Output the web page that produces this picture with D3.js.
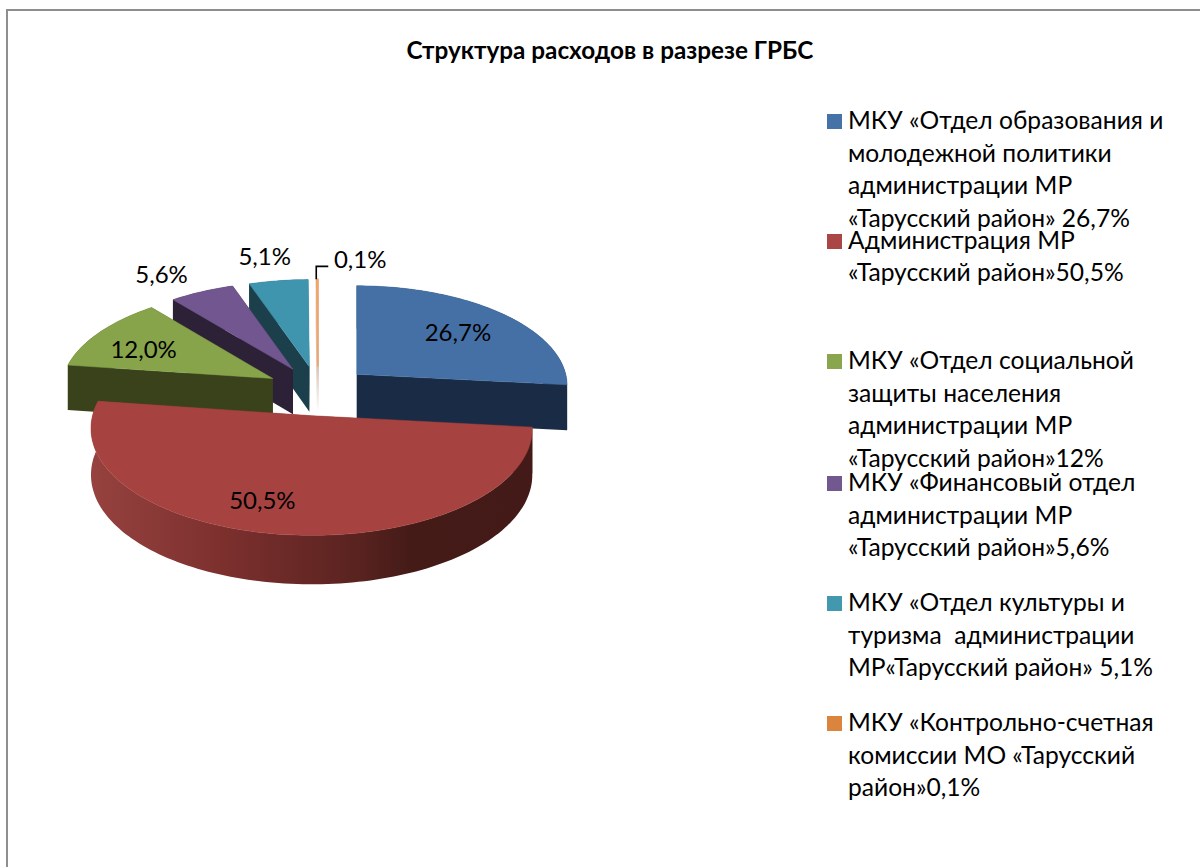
<!DOCTYPE html>
<html><head><meta charset="utf-8">
<script src="https://cdn.jsdelivr.net/npm/d3@7"></script>
<style>html,body{margin:0;padding:0;background:#fff}svg{display:block}</style>
</head><body><div id="c"></div>
<script>
const categories=["МКУ Отдел образования","Администрация","МКУ Отдел социальной защиты","МКУ Финансовый отдел","МКУ Отдел культуры","МКУ Контрольно-счетная комиссия"];
const values=[26.7,50.5,12.0,5.6,5.1,0.1];
const dataLabels=["26,7%","50,5%","12,0%","5,6%","5,1%","0,1%"];
const legendLines=[
 ["МКУ «Отдел образования и","молодежной политики","администрации МР","«Тарусский район» 26,7%"],
 ["Администрация МР","«Тарусский район»50,5%"],
 ["МКУ «Отдел социальной","защиты населения","администрации МР","«Тарусский район»12%"],
 ["МКУ «Финансовый отдел","администрации МР","«Тарусский район»5,6%"],
 ["МКУ «Отдел культуры и","туризма  администрации","МР«Тарусский район» 5,1%"],
 ["МКУ «Контрольно-счетная","комиссии МО «Тарусский","район»0,1%"]];
const titleText="Структура расходов в разрезе ГРБС";
const topColors=["#4570a6","#a64340","#87a44b","#71568f","#4095ae","#f2a56b"];
const wallColors=["#1a2c45","#431a17","#39421b","#2c2137","#1b3f4b","#f3e6dc"];
const legendColors=["#4572a7","#aa4643","#89a54e","#71588f","#4198af","#db843d"];
const legendBaseline=[129,248.5,369,491,611,731];
const labelFrac=[.6,.6,.6,1.1,1.1,1.1];
const labelDx=[12,-32,-23,-32,-11,43], labelDy=[-4,17,0,-10,-16,-12];
const W=1200,H=867,FONT="Lato, 'Noto Sans', sans-serif";
const O={x:318,y:390.5},R=213,EXPLODE=52,FX=1850,FY=2000,TILT=.475,DEPTH=45.5;
const svg=d3.select("#c").append("svg").attr("width",W).attr("height",H).style("font-family",FONT);
svg.append("rect").attr("width",W).attr("height",H).attr("fill","#fff");
svg.append("path").attr("d",`M7,${H}V10H${W}`).attr("fill","none").attr("stroke","#8e8e8e").attr("stroke-width",2);
svg.append("text").attr("x",610).attr("y",59).attr("text-anchor","middle").attr("font-weight",700).attr("font-size",24.3).text(titleText);
const defs=svg.append("defs");
const g=defs.append("linearGradient").attr("id","redWall").attr("gradientUnits","userSpaceOnUse").attr("x1",91).attr("x2",532).attr("y1",0).attr("y2",0);
[[0,"#96423f"],[.3,"#7c302e"],[.6,"#5a2320"],[.72,"#451b18"],[1,"#431a17"]].forEach(s=>g.append("stop").attr("offset",s[0]).attr("stop-color",s[1]));
const o=defs.append("linearGradient").attr("id","orWall").attr("gradientUnits","userSpaceOnUse").attr("x1",0).attr("x2",0).attr("y1",366).attr("y2",412);
[[0,"#d8c4b6"],[1,"#ffffff"]].forEach(s=>o.append("stop").attr("offset",s[0]).attr("stop-color",s[1]));
const arcs=d3.pie().sort(null).value(d=>d)(values);
function proj(ang,r,mid,depth){
  const Ex=EXPLODE*Math.sin(mid),Ez=EXPLODE*Math.cos(mid);
  const X=r*Math.sin(ang),Z=r*Math.cos(ang)+Ez;
  const sx=FX/(FX+Z),sy=FY/(FY+Z);
  return [O.x+Ex+X*sx,O.y-Z*TILT*sy+depth*(1+(sy-1)*.5)];
}
function arcPts(a,mid,depth){const n=Math.max(2,Math.ceil((a.endAngle-a.startAngle)*40));
  return d3.range(n+1).map(i=>proj(a.startAngle+(a.endAngle-a.startAngle)*i/n,R,mid,depth));}
const line=d3.line();
const order=[5,4,3,2,0,1];
const pieG=svg.append("g");
order.forEach(i=>{const a=arcs[i],mid=(a.startAngle+a.endAngle)/2;
  const top=arcPts(a,mid,0),bot=arcPts(a,mid,DEPTH);
  const ap0=proj(0,0,mid,0),ap1=proj(0,0,mid,DEPTH);
  const wall=i===1?"url(#redWall)":(i===5?"url(#orWall)":wallColors[i]);
  [top[0],top[top.length-1]].forEach((p,k)=>{const q=(k?bot[bot.length-1]:bot[0]);
    pieG.append("path").attr("d",line([ap0,p,q,ap1])+"Z").attr("fill",wall).attr("stroke",i===5?wall:"none").attr("stroke-width",2);});
  pieG.append("path").attr("d",line(top.concat(bot.slice().reverse()))+"Z").attr("fill",wall);
  pieG.append("path").attr("d",line([ap0].concat(top))+"Z").attr("fill",topColors[i]).attr("stroke",topColors[i]).attr("stroke-width",i===5?1.6:.5);
});
// leader for the smallest slice
{const a=arcs[5],mid=(a.startAngle+a.endAngle)/2,p=proj(mid,R,mid,0);
 svg.append("path").attr("d",d3.line()([[p[0]-1,p[1]],[p[0]-1,p[1]-13],[p[0]+11,p[1]-13]])).attr("fill","none").attr("stroke","#000").attr("stroke-width",1.6);}
arcs.forEach((a,i)=>{const mid=(a.startAngle+a.endAngle)/2,p=proj(mid,R*labelFrac[i],mid,0);
  svg.append("text").attr("x",p[0]+labelDx[i]).attr("y",p[1]+labelDy[i]+8).attr("text-anchor","middle").attr("font-size",24).attr("fill","#000").text(dataLabels[i]);});
legendLines.forEach((ls,i)=>{
  svg.append("rect").attr("x",827).attr("y",Math.round(legendBaseline[i])-15).attr("width",15).attr("height",15).attr("fill",legendColors[i]);
  ls.forEach((t,j)=>svg.append("text").attr("x",848).attr("y",legendBaseline[i]+j*32.6).attr("font-size",24.6).attr("fill","#000").style("white-space","pre").text(t));
});
</script></body></html>
